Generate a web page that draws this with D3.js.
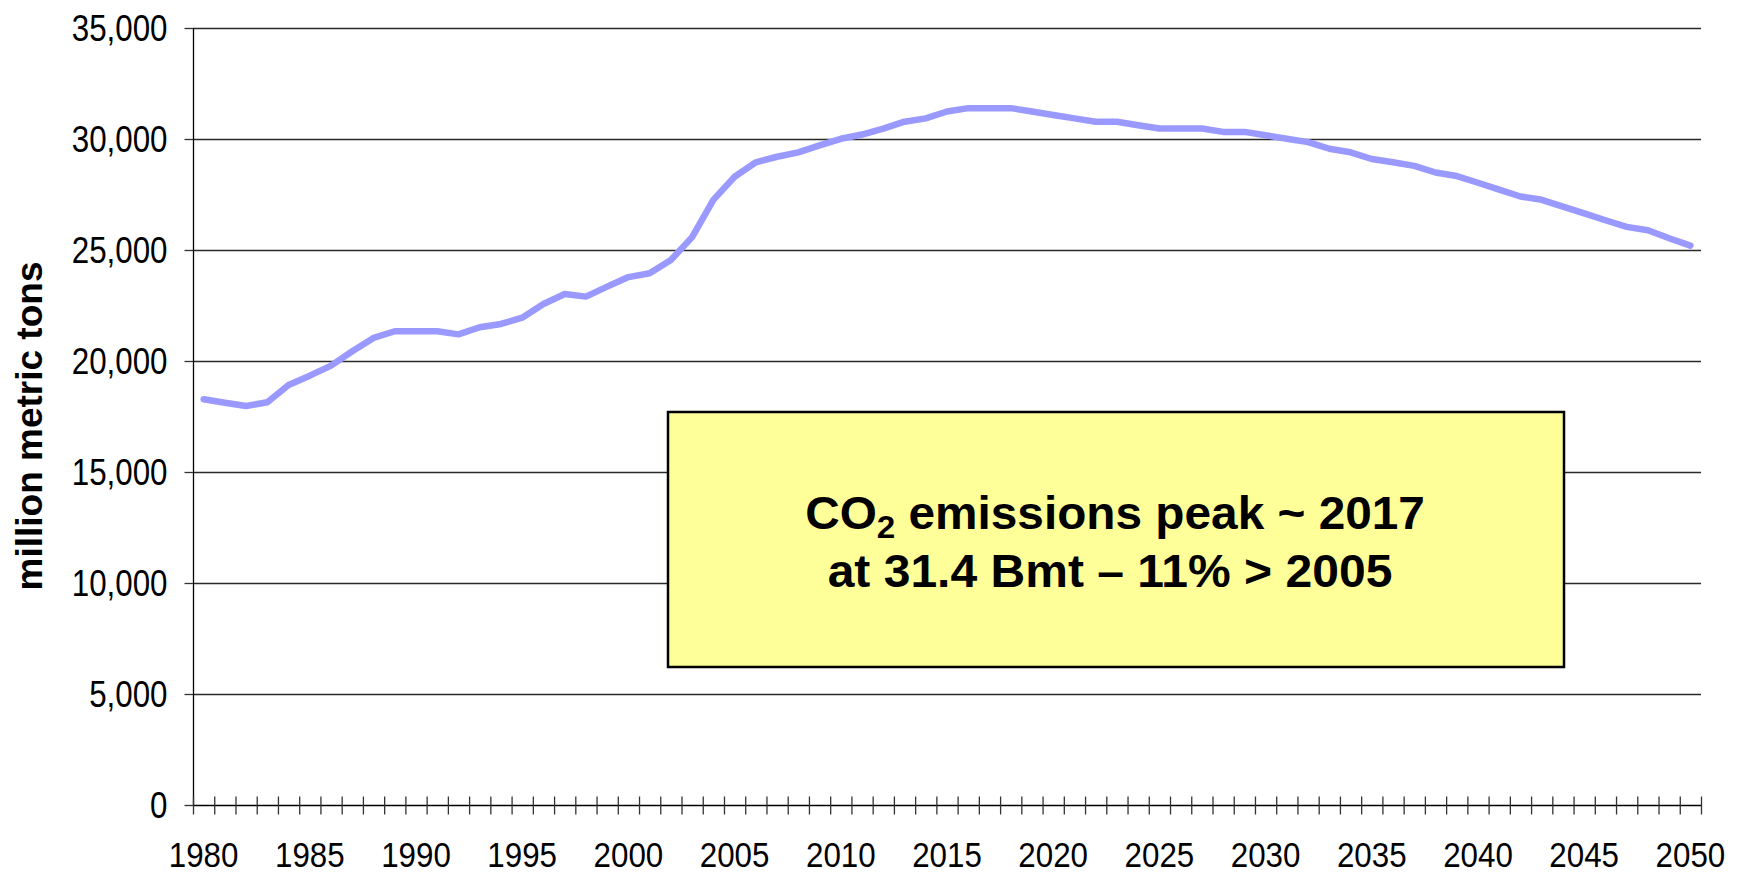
<!DOCTYPE html>
<html>
<head>
<meta charset="utf-8">
<script src="https://cdn.jsdelivr.net/npm/d3@7"></script>
<style>
  html, body { margin: 0; padding: 0; background: #fff; }
  svg { display: block; }
  text { font-family: "Liberation Sans", Arial, sans-serif; }
</style>
</head>
<body>
<svg id="chart" width="1748" height="875"></svg>
<script>
// ---- data ----
const years = d3.range(1980, 2051);
const emissions = [
  18280, 18120, 17970, 18140, 18920, 19340, 19790, 20440, 21040, 21340,
  21340, 21340, 21200, 21520, 21670, 21950, 22570, 23020, 22900, 23350,
  23780, 23950, 24550, 25580, 27260, 28300, 28950, 29200, 29400, 29710,
  30010, 30200, 30470, 30780, 30930, 31240, 31390, 31390, 31390, 31240,
  31080, 30930, 30780, 30780, 30620, 30470, 30470, 30470, 30320, 30320,
  30170, 30010, 29860, 29560, 29400, 29100, 28950, 28790, 28490, 28330,
  28030, 27720, 27410, 27260, 26950, 26650, 26340, 26040, 25890, 25530,
  25200
];
const yTickValues = [0, 5000, 10000, 15000, 20000, 25000, 30000, 35000];
const xLabelYears = [1980, 1985, 1990, 1995, 2000, 2005, 2010, 2015, 2020, 2025, 2030, 2035, 2040, 2045, 2050];
const yAxisTitle = "million metric tons";
const noteLine1 = ["CO", "2", " emissions peak ~ 2017"];
const noteLine2 = "at 31.4 Bmt \u2013 11% > 2005";

// ---- layout ----
const X0 = 193, X1 = 1701, Y0 = 805, Y1 = 28;
const svg = d3.select("#chart");

const x = d3.scaleBand().domain(years).range([X0, X1]).padding(0);
const xEdge = d3.scaleLinear().domain([1980, 2051]).range([X0, X1]);
const y = d3.scaleLinear().domain([0, 35000]).range([Y0, Y1]);

// gridlines
svg.append("g")
  .selectAll("line")
  .data(yTickValues.filter(v => v > 0))
  .join("line")
  .attr("x1", X0).attr("x2", X1)
  .attr("y1", d => Math.round(y(d)) + 0.5).attr("y2", d => Math.round(y(d)) + 0.5)
  .attr("stroke", "#2a2a2a").attr("stroke-width", 1.3);

// y axis
const gy = svg.append("g").attr("transform", `translate(${X0 + 0.5},0)`)
  .call(d3.axisLeft(y).tickValues(yTickValues).tickSize(9).tickFormat(d3.format(",")));
gy.select(".domain").attr("stroke", "#000").attr("stroke-width", 1.3)
  .attr("d", `M0,${Y0}V${Y1}`);
gy.selectAll(".tick line").attr("stroke", "#333").attr("stroke-width", 1.3);
const ySx = 0.87;
gy.selectAll(".tick text")
  .attr("fill", "#000").attr("font-size", 36)
  .attr("dy", "0.36em")
  .attr("x", -26 / ySx)
  .attr("transform", `scale(${ySx},1)`)
  .style("font-family", "'Liberation Sans', Arial, sans-serif");

// x axis (cross tick marks at category boundaries)
const gx = svg.append("g").attr("transform", `translate(0,${Y0 + 0.5})`)
  .call(d3.axisBottom(xEdge).tickValues(d3.range(1980, 2052)).tickSize(9).tickFormat(""));
gx.select(".domain").attr("stroke", "#000").attr("stroke-width", 1.3)
  .attr("d", `M${X0},0H${X1}`);
gx.selectAll(".tick line").attr("y1", -9).attr("y2", 9)
  .attr("stroke", "#333").attr("stroke-width", 1.3);

// x labels at category centres
const gxl = svg.append("g").attr("transform", `translate(0,${Y0})`)
  .call(d3.axisBottom(x).tickValues(xLabelYears).tickSize(0));
gxl.select(".domain").remove();
const xSx = 0.895;
gxl.selectAll(".tick").each(function() {
  const t = d3.select(this);
  const m = /translate\(([-\d.]+)/.exec(t.attr("transform"));
  const tx = +m[1];
  t.attr("transform", `translate(${tx},62)`);
  t.select("text")
    .attr("x", 0).attr("y", 0).attr("dy", 0)
    .attr("fill", "#000").attr("font-size", 35)
    .attr("transform", `scale(${xSx},1)`)
    .style("font-family", "'Liberation Sans', Arial, sans-serif");
});

// data line
const line = d3.line()
  .x((d, i) => x(years[i]) + x.bandwidth() / 2)
  .y(d => y(d));
svg.append("path")
  .datum(emissions)
  .attr("fill", "none")
  .attr("stroke", "#9999FF")
  .attr("stroke-width", 6.5)
  .attr("stroke-linejoin", "round")
  .attr("stroke-linecap", "round")
  .attr("d", line);

// y axis title
svg.append("text")
  .attr("transform", "translate(42,426) rotate(-90)")
  .attr("text-anchor", "middle")
  .attr("font-size", 37)
  .attr("font-weight", "bold")
  .attr("fill", "#000")
  .text(yAxisTitle);

// annotation box
svg.append("rect")
  .attr("x", 668).attr("y", 412).attr("width", 896).attr("height", 255)
  .attr("fill", "#FFFF99").attr("stroke", "#000").attr("stroke-width", 2.5);

function fitText(sel, cx, cy, targetW) {
  const w = sel.node().getComputedTextLength();
  const s = targetW / w;
  sel.attr("transform", `translate(${cx},${cy}) scale(${s},1)`);
}

const t1 = svg.append("text")
  .attr("text-anchor", "middle").attr("font-size", 46).attr("font-weight", "bold").attr("fill", "#000");
t1.append("tspan").text(noteLine1[0]);
t1.append("tspan").attr("font-size", 32).attr("dy", 9).text(noteLine1[1]);
t1.append("tspan").attr("dy", -9).text(noteLine1[2]);
fitText(t1, 1115, 529, 620);

const t2 = svg.append("text")
  .attr("text-anchor", "middle").attr("font-size", 46).attr("font-weight", "bold").attr("fill", "#000")
  .text(noteLine2);
fitText(t2, 1110, 587, 565);
</script>
</body>
</html>
